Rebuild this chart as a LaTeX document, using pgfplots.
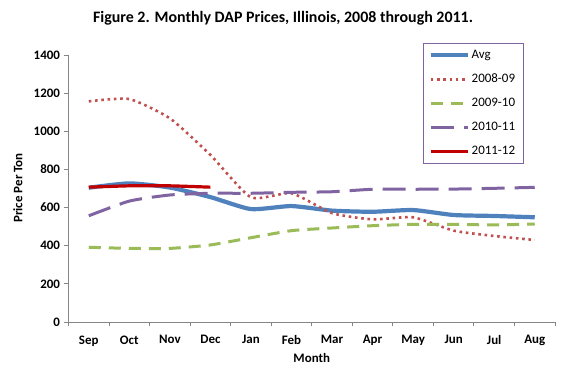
\documentclass[border=0pt]{standalone}
\usepackage{pgfplots}
\pgfplotsset{compat=1.18}
\usepackage{fontspec}
\setmainfont{Carlito}
\definecolor{cavg}{RGB}{79,129,189}
\definecolor{c0809}{RGB}{192,80,77}
\definecolor{c0910}{RGB}{155,187,89}
\definecolor{c1011}{RGB}{128,100,162}
\definecolor{c1112}{RGB}{192,0,0}
\definecolor{axgray}{RGB}{134,134,134}
\begin{document}
\begin{tikzpicture}[x=1bp,y=1bp]
\path (0,0) rectangle (574,369);
\node[font=\fontsize{16}{19}\selectfont\bfseries] at (283,351) {Figure 2. Monthly DAP Prices, Illinois, 2008 through 2011.};
\begin{axis}[
  at={(68.5bp,47bp)}, anchor=south west,
  scale only axis, width=486.5bp, height=267bp,
  xmin=-0.5, xmax=11.5, ymin=0, ymax=1400,
  axis x line*=bottom, axis y line*=left,
  axis line style={axgray, line width=0.9pt},
  x axis line style={-}, y axis line style={-},
  xtick={0,...,11},
  xticklabels={Sep,Oct,Nov,Dec,Jan,Feb,Mar,Apr,May,Jun,Jul,Aug},
  major x tick style={draw=none},
  minor xtick={-0.5,0.5,...,11.5},
  minor x tick style={axgray, line width=0.9pt},
  minor tick length=4bp,
  ytick={0,200,...,1400},
  major tick length=5bp,
  y tick style={axgray, line width=0.9pt},
  tick align=outside,
  ticklabel style={font=\fontsize{13}{15}\selectfont\bfseries},
  xticklabel style={yshift=-5bp},
  /pgf/number format/assume math mode=true,
  /pgf/number format/1000 sep={},
  xlabel={Month}, ylabel={Price Per Ton},
  label style={font=\fontsize{13}{15}\selectfont\bfseries},
  xlabel style={at={(axis description cs:0.5,-0.135)}, anchor=center},
  ylabel style={at={(axis description cs:-0.104,0.502)}, anchor=center, rotate=0},
  legend style={at={(0.729,1.045)}, anchor=north west, draw=c1011, line width=0.7pt,
    font=\fontsize{13}{15}\selectfont, inner xsep=5bp, inner ysep=5bp,
    row sep=10bp, text width=45bp, /tikz/every even column/.style={column sep=1bp}},
  legend cell align=left,
  legend image code/.code={\draw[#1] (0bp,0bp) -- (37bp,0bp);},
  every axis plot/.append style={smooth, tension=0.35},
]
\addplot[cavg, line width=4.2bp] coordinates {(0,704)(1,727)(2,705)(3,655)(4,592)(5,608)(6,584)(7,578)(8,587)(9,561)(10,556)(11,549)};
\addlegendentry{Avg}
\addplot[c0809, line width=2.6bp, dash pattern=on 2.6bp off 3.7bp] coordinates {(0,1157)(1,1169)(2,1068)(3,876)(4,654)(5,675)(6,571)(7,538)(8,549)(9,479)(10,451)(11,430)};
\addlegendentry{2008-09}
\addplot[c0910, line width=3bp, dash pattern=on 12bp off 8bp] coordinates {(0,392)(1,386)(2,386)(3,404)(4,442)(5,479)(6,493)(7,505)(8,512)(9,512)(10,509)(11,514)};
\addlegendentry{2009-10}
\addplot[c1011, line width=3bp, dash pattern=on 23bp off 10bp] coordinates {(0,557)(1,634)(2,666)(3,675)(4,675)(5,680)(6,683)(7,696)(8,696)(9,697)(10,701)(11,706)};
\addlegendentry{2010-11}
\addplot[c1112, line width=3.2bp] coordinates {(0,707)(1,714)(2,714)(3,707)};
\addlegendentry{2011-12}
\end{axis}
\end{tikzpicture}
\end{document}
